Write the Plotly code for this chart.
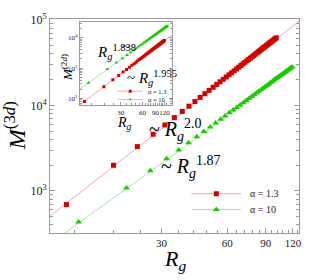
import plotly.graph_objects as go

# ---------------- data ----------------
# main panel: alpha = 1.3 (red squares)
rg_a13 = [11.0, 18.07, 23.23, 27.44, 31.08, 34.34, 37.32, 40.07, 42.65, 45.08, 47.39, 49.58,
          51.69, 53.72, 55.66, 57.55, 59.37, 61.14, 62.86, 64.53, 66.16, 67.76, 69.31, 70.83,
          72.32, 73.78, 75.21, 76.62, 78.00, 79.35, 80.68, 82.00, 83.29, 84.56, 85.81, 87.04,
          88.26, 89.46, 90.64, 91.81, 92.96, 94.11, 95.23, 96.35, 97.44, 98.53, 99.61, 100.67]
m3d_a13 = [690, 1990, 3290, 4590, 5890, 7190, 8490, 9790, 11090, 12390, 13690, 14990,
           16290, 17590, 18890, 20190, 21490, 22790, 24090, 25390, 26690, 27990, 29290, 30590,
           31890, 33190, 34490, 35790, 37090, 38390, 39690, 40990, 42290, 43590, 44890, 46190,
           47490, 48790, 50090, 51390, 52690, 53990, 55290, 56590, 57890, 59190, 60490, 61790]
# main panel: alpha = 10 (green triangles)
rg_a10 = [12.5, 20.73, 26.66, 31.62, 35.97, 39.91, 43.51, 46.89, 50.08, 53.07, 55.95, 58.71,
          61.35, 63.88, 66.35, 68.71, 71.07, 73.30, 75.49, 77.62, 79.74, 81.77, 83.74, 85.70,
          87.61, 89.47, 91.36, 93.13, 94.93, 96.72, 98.37, 100.07, 101.79, 103.42, 105.09, 106.68,
          108.28, 109.81, 111.36, 112.94, 114.50, 115.95, 117.42, 118.92]
m3d_a10 = [430, 1075, 1720, 2365, 3010, 3655, 4300, 4945, 5590, 6235, 6880, 7525,
           8170, 8815, 9460, 10105, 10750, 11395, 12040, 12685, 13330, 13975, 14620, 15265,
           15910, 16555, 17200, 17845, 18490, 19135, 19780, 20425, 21070, 21715, 22360, 23005,
           23650, 24295, 24940, 25585, 26230, 26875, 27520, 28165]
# main panel power-law guide lines (end points)
fit_rg = [8, 140]
fit3d_a13 = [378, 115800]     # ~ Rg^2.0
fit3d_a10 = [184, 35600]      # ~ Rg^1.87

# inset: alpha = 1.3
rg_in_a13 = [9.5, 17.58, 23.34, 28.11, 32.29, 36.08, 39.56, 42.80, 45.86, 48.76, 51.52, 54.17,
             56.71, 59.16, 61.54, 63.84, 66.08, 68.25, 70.37, 72.43, 74.46, 76.44, 78.37, 80.27,
             82.14, 83.96, 85.76, 87.53, 89.27, 90.98, 92.66, 94.32, 95.95, 97.57, 99.16, 100.73,
             102.28, 103.81, 105.33, 106.84, 108.3, 109.8, 111.2, 112.6, 114.1, 115.5, 116.8,
             118.2, 119.6]
m2d_a13 = [80, 245, 410, 575, 740, 905, 1070, 1235, 1400, 1565, 1730, 1895, 2060, 2225, 2390,
           2555, 2720, 2885, 3050, 3215, 3380, 3545, 3710, 3875, 4040, 4205, 4370, 4535, 4700,
           4865, 5030, 5195, 5360, 5525, 5690, 5855, 6020, 6185, 6350, 6515, 6680, 6845, 7010,
           7175, 7340, 7505, 7670, 7835, 8000]
# inset: alpha = 10
rg_in_a10 = [10.8, 19.62, 26.16, 31.69, 36.58, 41.05, 45.18, 49.05, 52.73, 56.21, 59.56, 62.77,
             65.87, 68.86, 71.76, 74.57, 77.33, 80.00, 82.61, 85.16, 87.66, 90.10, 92.51, 94.88,
             97.19, 99.47, 101.7, 103.9, 106.1, 108.2, 110.3, 112.4, 114.5, 116.5, 118.5, 120.4,
             122.4, 124.3, 126.3, 128.1, 130.0]
m2d_a10 = [328, 918, 1508, 2098, 2688, 3278, 3868, 4458, 5048, 5638, 6228, 6818, 7408, 7998,
           8588, 9178, 9768, 10358, 10948, 11538, 12128, 12718, 13308, 13898, 14488, 15078,
           15668, 16258, 16848, 17438, 18028, 18618, 19208, 19798, 20388, 20978, 21568, 22158,
           22748, 23338, 23928]
fit_in_rg = [7, 170]
fit2d_a13 = [45.9, 15150]     # ~ Rg^1.955
fit2d_a10 = [155, 37980]      # ~ Rg^1.838

labels = ["α = 1.3", "α = 10"]
x_ticks = [30, 60, 90, 120]
x_minor = [12, 18, 24, 36, 42, 48, 54, 66, 72, 78, 84, 96, 102, 108, 114, 126]
y_main_ticks = [1e3, 1e4, 1e5]
y_main_text = ["10<sup>3</sup>", "10<sup>4</sup>", "10<sup>5</sup>"]
y_in_ticks = [1e2, 1e3, 1e4]
y_in_text = ["10<sup>2</sup>", "10<sup>3</sup>", "10<sup>4</sup>"]
y_minor = [m * 10 ** e for e in (1, 2, 3, 4) for m in range(2, 10)]

# ---------------- styling / layout ----------------
RED, RED_L = "#d40000", "#f4a3a3"
GRN, GRN_L = "#19cc00", "#a6e6a0"
SERIF = "Liberation Serif, Times New Roman, serif"
AX = "#9a9a9a"

W, H = 314, 280
ML, MR, MT, MB = 50, 14, 15, 47
PW, PH = W - ML - MR, H - MT - MB
MX0, MX1 = 0.966, 2.107          # main log ranges
MY0, MY1 = 2.506, 5.011
IX0, IX1 = 0.915, 2.176          # inset log ranges
IY0, IY1 = 1.774, 4.516
IXL, IXR, IYT, IYB = 80, 172, 18, 103   # inset box in pixels


def px(x):
    return (x - ML) / PW


def py(y):
    return (H - MB - y) / PH


def mx(p):   # pixel -> main data
    return 10 ** (MX0 + (p - ML) / PW * (MX1 - MX0))


def my(p):
    return 10 ** (MY0 + (H - MB - p) / PH * (MY1 - MY0))


def inx(p):  # pixel -> inset data
    return 10 ** (IX0 + (p - IXL) / (IXR - IXL) * (IX1 - IX0))


def iny(p):
    return 10 ** (IY0 + (IYB - p) / (IYB - IYT) * (IY1 - IY0))


fig = go.Figure()

# main guide lines
fig.add_trace(go.Scatter(x=fit_rg, y=fit3d_a13, mode="lines", line=dict(color=RED_L, width=1),
                         showlegend=False, hoverinfo="skip"))
fig.add_trace(go.Scatter(x=fit_rg, y=fit3d_a10, mode="lines", line=dict(color=GRN_L, width=1),
                         showlegend=False, hoverinfo="skip"))
# main data
fig.add_trace(go.Scatter(x=rg_a13, y=m3d_a13, mode="markers", name=labels[0], showlegend=False,
                         marker=dict(symbol="square", size=5, color=RED)))
fig.add_trace(go.Scatter(x=rg_a10, y=m3d_a10, mode="markers", name=labels[1], showlegend=False,
                         marker=dict(symbol="triangle-up", size=6, color=GRN)))

# inset guide lines + data
fig.add_trace(go.Scatter(x=fit_in_rg, y=fit2d_a13, mode="lines", line=dict(color=RED_L, width=1),
                         xaxis="x2", yaxis="y2", showlegend=False, hoverinfo="skip"))
fig.add_trace(go.Scatter(x=fit_in_rg, y=fit2d_a10, mode="lines", line=dict(color=GRN_L, width=1),
                         xaxis="x2", yaxis="y2", showlegend=False, hoverinfo="skip"))
fig.add_trace(go.Scatter(x=rg_in_a13, y=m2d_a13, mode="markers", xaxis="x2", yaxis="y2",
                         name=labels[0], marker=dict(symbol="square", size=3, color=RED),
                         showlegend=False))
fig.add_trace(go.Scatter(x=rg_in_a10, y=m2d_a10, mode="markers", xaxis="x2", yaxis="y2",
                         name=labels[1], marker=dict(symbol="triangle-up", size=3.5, color=GRN),
                         showlegend=False))

annotations = []
# legend keys: main (x, y axes) and inset (x2, y2 axes)
keys = [(RED_L, RED, "square"), (GRN_L, GRN, "triangle-up")]
for (col_l, col_m, sym), lab, yy in zip(keys, labels, [193, 209]):
    fig.add_trace(go.Scatter(x=[mx(192), mx(242)], y=[my(yy), my(yy)], mode="lines",
                             line=dict(color=col_l, width=1), showlegend=False, hoverinfo="skip"))
    fig.add_trace(go.Scatter(x=[mx(217)], y=[my(yy)], mode="markers", showlegend=False,
                             marker=dict(symbol=sym, size=5 if sym == "square" else 6, color=col_m),
                             hoverinfo="skip"))
    annotations.append(dict(x=px(249), y=py(yy), text=lab, xanchor="left", yanchor="middle",
                            font=dict(family=SERIF, size=10, color="#222")))
for (col_l, col_m, sym), lab, yy in zip(keys, labels, [88.5, 97]):
    fig.add_trace(go.Scatter(x=[inx(118), inx(143)], y=[iny(yy), iny(yy)], mode="lines",
                             line=dict(color=col_l, width=1), xaxis="x2", yaxis="y2",
                             showlegend=False, hoverinfo="skip"))
    fig.add_trace(go.Scatter(x=[inx(130.5)], y=[iny(yy)], mode="markers",
                             marker=dict(symbol=sym, size=3, color=col_m), xaxis="x2", yaxis="y2",
                             showlegend=False, hoverinfo="skip"))
    annotations.append(dict(x=px(146), y=py(yy), text=lab, xanchor="left", yanchor="middle",
                            font=dict(family=SERIF, size=6.5, color="#222")))

ann_font = dict(family=SERIF, color="black")
annotations += [
    dict(x=px(147), y=py(128), text="~ <i>R<sub>g</sub></i><sup>2.0</sup>", xanchor="left",
         yanchor="middle", font=dict(size=20, **ann_font)),
    dict(x=px(159), y=py(166), text="~ <i>R<sub>g</sub></i><sup>1.87</sup>", xanchor="left",
         yanchor="middle", font=dict(size=20, **ann_font)),
    dict(x=px(95), y=py(49), text="<i>R<sub>g</sub></i><sup>1.838</sup>", xanchor="left",
         yanchor="middle", font=dict(size=15, **ann_font)),
    dict(x=px(126), y=py(44), text="~", xanchor="center",
         yanchor="middle", font=dict(size=15, **ann_font)),
    dict(x=px(125), y=py(75), text="~ <i>R<sub>g</sub></i><sup>1.955</sup>", xanchor="left",
         yanchor="middle", font=dict(size=15, **ann_font)),
    # axis titles
    dict(x=px(15), y=py(124), text="<i>M</i><sup>(3<i>d</i>)</sup>", textangle=-90,
         xanchor="center", yanchor="middle", font=dict(size=24, **ann_font)),
    dict(x=px(175), y=py(261), text="<i>R<sub>g</sub></i>", xanchor="center",
         yanchor="middle", font=dict(size=22, **ann_font)),
    dict(x=px(67), y=py(64), text="<i>M</i><sup>(2<i>d</i>)</sup>", textangle=-90,
         xanchor="center", yanchor="middle", font=dict(size=13, **ann_font)),
    dict(x=px(125), y=py(121), text="<i>R<sub>g</sub></i>", xanchor="center",
         yanchor="middle", font=dict(size=14, **ann_font)),
]
for a in annotations:
    a.setdefault("xref", "paper")
    a.setdefault("yref", "paper")
    a.setdefault("showarrow", False)

common = dict(type="log", showgrid=False, zeroline=False, showline=True, linecolor=AX,
              linewidth=1, ticks="inside", tickcolor=AX, tickwidth=1, tickangle=0)

fig.update_layout(
    width=W, height=H, margin=dict(l=ML, r=MR, t=MT, b=MB),
    paper_bgcolor="white", plot_bgcolor="white",
    font=dict(family=SERIF, color="black"),
    showlegend=False,
    xaxis=dict(**common, range=[MX0, MX1], domain=[0, 1], anchor="y", mirror=True,
               tickvals=x_ticks, ticktext=[str(v) for v in x_ticks], ticklen=5,
               tickfont=dict(family=SERIF, size=11, color="#222"),
               minor=dict(tickvals=x_minor, ticks="inside", ticklen=3, tickcolor=AX)),
    yaxis=dict(**common, range=[MY0, MY1], domain=[0, 1], anchor="x", mirror="ticks",
               tickvals=y_main_ticks, ticktext=y_main_text, ticklen=5,
               tickfont=dict(family=SERIF, size=12, color="#222"),
               minor=dict(tickvals=y_minor, ticks="inside", ticklen=3, tickcolor=AX)),
    xaxis2=dict(**common, range=[IX0, IX1], domain=[px(IXL), px(IXR)], anchor="y2", mirror=True,
                tickvals=x_ticks, ticktext=[str(v) for v in x_ticks], ticklen=3,
                tickfont=dict(family=SERIF, size=7, color="#222"),
                minor=dict(tickvals=x_minor, ticks="inside", ticklen=2, tickcolor=AX)),
    yaxis2=dict(**common, range=[IY0, IY1], domain=[py(IYB), py(IYT)], anchor="x2", mirror="ticks",
                tickvals=y_in_ticks, ticktext=y_in_text, ticklen=3,
                tickfont=dict(family=SERIF, size=7, color="#222"),
                minor=dict(tickvals=y_minor, ticks="inside", ticklen=2, tickcolor=AX)),
    annotations=annotations,
)

fig.write_html("out.html", config={"displayModeBar": False},
               post_script="document.body.style.margin='0';")
